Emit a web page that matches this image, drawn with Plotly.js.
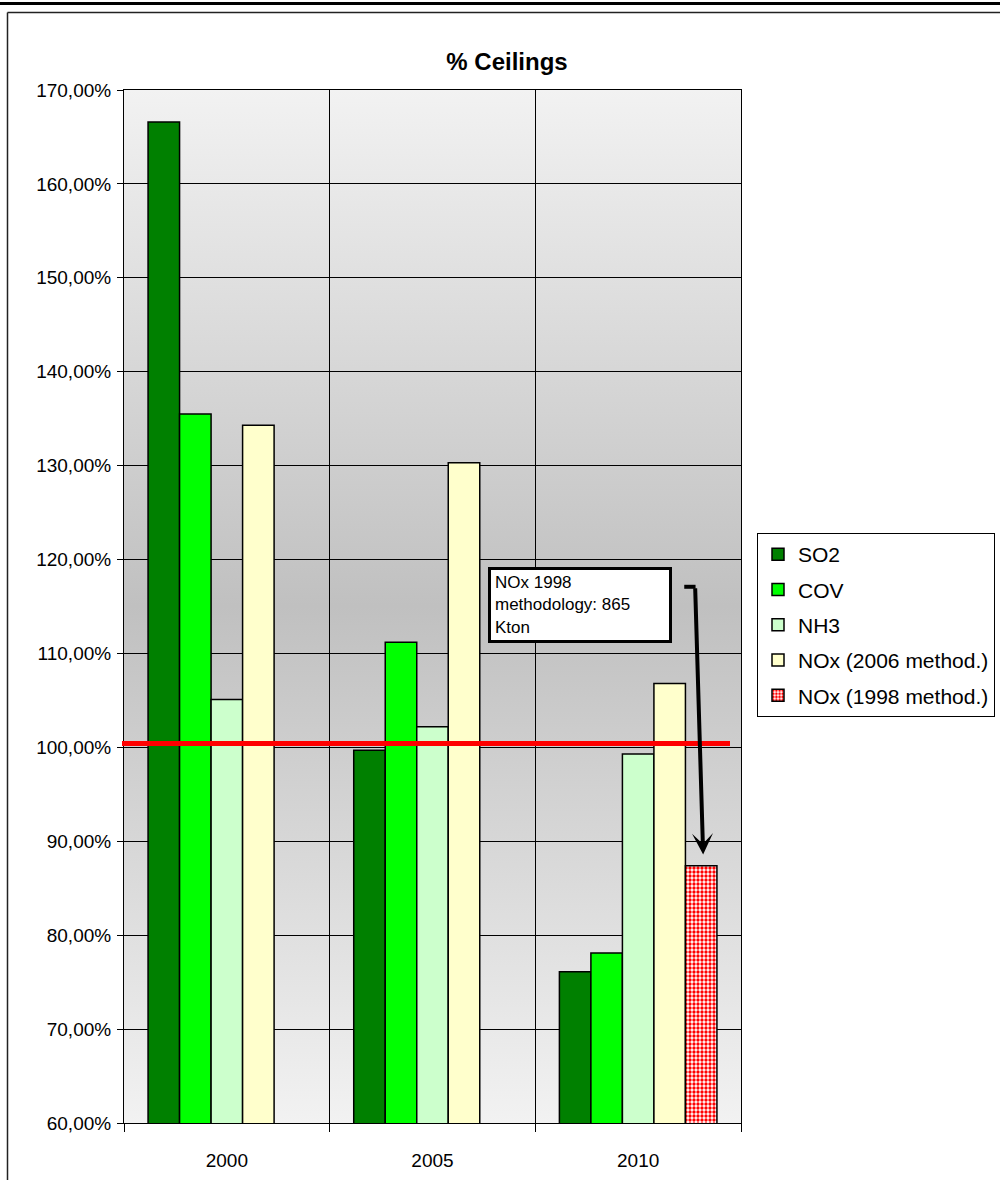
<!DOCTYPE html>
<html><head><meta charset="utf-8">
<script src="https://cdn.plot.ly/plotly-3.0.1.min.js"></script>
<style>html,body{margin:0;padding:0;background:#fff}#chart{width:1000px;height:1180px}</style>
</head><body><div id="chart"></div>
<script>
// ---- data ----
const years = ['2000', '2005', '2010'];
const so2 = [166.6, 99.7, 76.1];
const cov = [135.5, 111.2, 78.1];
const nh3 = [105.1, 102.2, 99.3];
const nox2006 = [134.3, 130.3, 106.8];
const nox1998 = [null, null, 87.4];
const seriesNames = ['SO2', 'COV', 'NH3', 'NOx (2006 method.)', 'NOx (1998 method.)'];
const ceilingLevel = 100.4;
const noteText = 'NOx 1998<br>methodology: 865<br>Kton';

// ---- layout helpers ----
const FONT = '"Liberation Sans", Arial, sans-serif';
const L = 124, R = 741, T = 90, B = 1123, W = 1000, H = 1180;
const px = v => (v - L) / (R - L);
const py = v => (B - v) / (B - T);

const gradSvg = '<svg xmlns="http://www.w3.org/2000/svg" width="100" height="100" preserveAspectRatio="none">' +
  '<defs><linearGradient id="g" x1="0" y1="0" x2="0" y2="1">' +
  '<stop offset="0" stop-color="#f2f2f2"/><stop offset="0.5" stop-color="#c0c0c0"/><stop offset="1" stop-color="#f2f2f2"/>' +
  '</linearGradient></defs><rect width="100" height="100" fill="url(#g)"/></svg>';
const gradUri = 'data:image/svg+xml;utf8,' + encodeURIComponent(gradSvg);

const outline = {color: '#000', width: 1.5};
const traces = [
  {type: 'bar', name: seriesNames[0], legendgroup: 'a', x: years, y: so2, marker: {color: '#008000', line: outline}},
  {type: 'bar', name: seriesNames[1], legendgroup: 'b', x: years, y: cov, marker: {color: '#00ff00', line: outline}},
  {type: 'bar', name: seriesNames[2], legendgroup: 'c', x: years, y: nh3, marker: {color: '#ccffcc', line: outline}},
  {type: 'bar', name: seriesNames[3], legendgroup: 'd', x: years, y: nox2006, marker: {color: '#ffffcc', line: outline}},
  {type: 'bar', name: seriesNames[4], legendgroup: 'e', x: years, y: nox1998,
   marker: {color: '#ffffff', line: outline,
            pattern: {shape: '.', fgcolor: '#ff0000', bgcolor: '#ffffff', size: 4, solidity: 0.55}}}
];

const layout = {
  width: W, height: H,
  margin: {l: L, r: W - R, t: T, b: H - B, pad: 0, autoexpand: false},
  paper_bgcolor: '#ffffff',
  plot_bgcolor: 'rgba(0,0,0,0)',
  separators: ',.',
  font: {family: FONT, color: '#000', size: 19},
  title: {text: '<b>% Ceilings</b>', font: {family: FONT, size: 24, color: '#000'},
          xref: 'container', x: 0.507, xanchor: 'center', yref: 'container', y: 1 - 62 / H, yanchor: 'middle'},
  barmode: 'group', bargap: 0.234, bargroupgap: 0,
  showlegend: true,
  legend: {xref: 'container', x: 757 / W, xanchor: 'left', yref: 'container', y: 1 - 533 / H, yanchor: 'top',
           bgcolor: '#ffffff', bordercolor: '#000', borderwidth: 1,
           traceorder: 'grouped', tracegroupgap: 5,
           font: {family: FONT, size: 21, color: '#000'}, itemwidth: 30},
  xaxis: {type: 'category', tickson: 'boundaries', ticks: 'outside', ticklen: 8, tickcolor: '#000',
          showgrid: true, gridcolor: '#000', gridwidth: 1,
          showline: true, linecolor: '#000', linewidth: 1, mirror: true,
          tickfont: {family: FONT, size: 19}, ticklabelstandoff: 20},
  yaxis: {range: [60, 170], dtick: 10, tick0: 60, tickformat: '.2f', ticksuffix: '%',
          ticks: 'outside', ticklen: 6, tickcolor: '#000',
          showgrid: true, gridcolor: '#000', gridwidth: 1, zeroline: false,
          showline: true, linecolor: '#000', linewidth: 1, mirror: true,
          tickfont: {family: FONT, size: 19}, ticklabelstandoff: 2},
  images: [{source: gradUri, xref: 'paper', yref: 'paper', x: 0, y: 1, sizex: 1, sizey: 1,
            xanchor: 'left', yanchor: 'top', sizing: 'stretch', layer: 'below'}],
  shapes: [
    // chart frame
    {type: 'line', xref: 'paper', yref: 'paper', x0: px(-10), x1: px(1010), y0: py(3.5), y1: py(3.5),
     line: {color: '#000', width: 3}},
    {type: 'line', xref: 'paper', yref: 'paper', x0: px(7.5), x1: px(1010), y0: py(12.5), y1: py(12.5),
     line: {color: '#222', width: 1.5}},
    {type: 'line', xref: 'paper', yref: 'paper', x0: px(7.5), x1: px(7.5), y0: py(12.5), y1: py(1190),
     line: {color: '#222', width: 1.5}},
    // ceiling line
    {type: 'line', xref: 'paper', yref: 'y', x0: px(122), x1: px(730), y0: ceilingLevel, y1: ceilingLevel,
     line: {color: '#ff0000', width: 5}, layer: 'above'},
    // short tail segment of the arrow
    {type: 'line', xref: 'x', yref: 'y', x0: 2.224, x1: 2.279, y0: 117.1, y1: 117.1,
     line: {color: '#000', width: 4}, layer: 'above'}
  ],
  annotations: [
    {xref: 'paper', yref: 'paper', x: px(488), y: py(567), xanchor: 'left', yanchor: 'top',
     text: noteText, showarrow: false, align: 'left', width: 170, height: 62,
     bgcolor: '#ffffff', bordercolor: '#000', borderwidth: 3, borderpad: 4,
     font: {family: FONT, size: 17, color: '#000'}},
    {xref: 'x', yref: 'y', x: 2.316, y: 88.6, axref: 'x', ayref: 'y', ax: 2.277, ay: 117.1,
     text: '', showarrow: true, arrowhead: 3, arrowsize: 0.875, arrowwidth: 4, arrowcolor: '#000'}
  ]
};

Plotly.newPlot('chart', traces, layout, {displayModeBar: false, staticPlot: true});
</script>
</body></html>
